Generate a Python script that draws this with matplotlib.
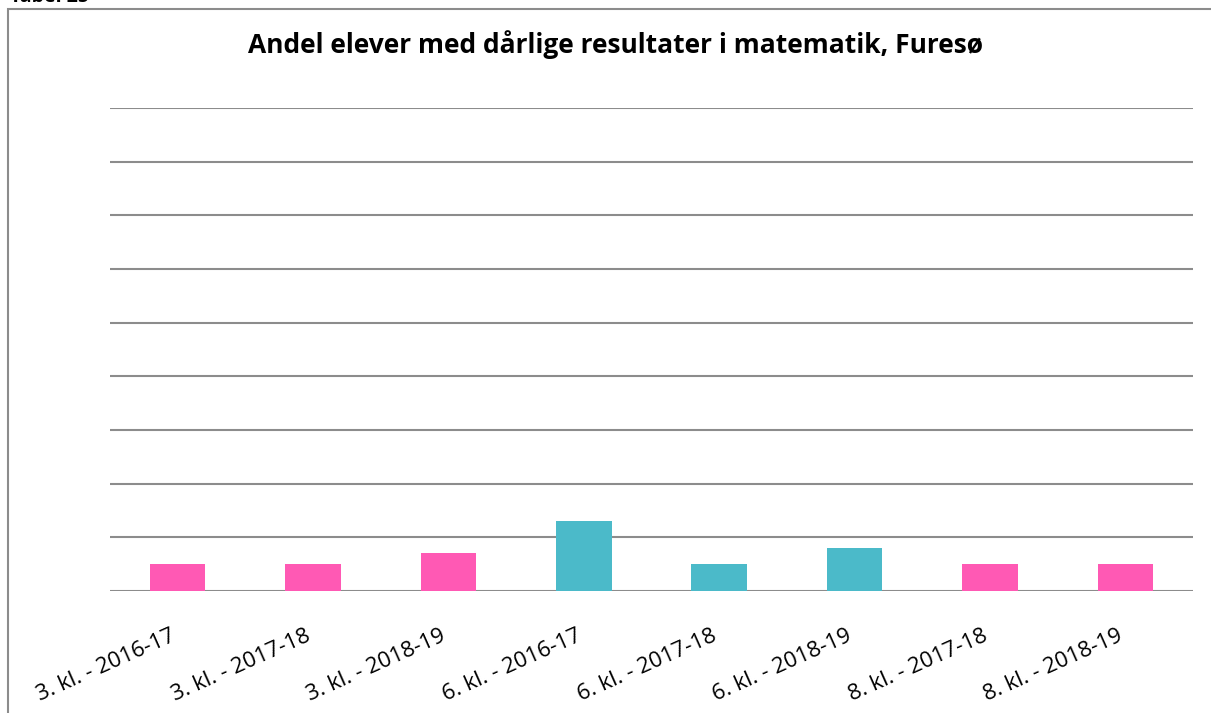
import matplotlib.pyplot as plt
import matplotlib.patches as mpatches
import matplotlib.transforms as mtransforms
import numpy as np

# Data (percent of pupils)
categories = ["3. kl. - 2016-17", "3. kl. - 2017-18", "3. kl. - 2018-19",
              "6. kl. - 2016-17", "6. kl. - 2017-18", "6. kl. - 2018-19",
              "8. kl. - 2017-18", "8. kl. - 2018-19"]
values = [2.5, 2.5, 3.5, 6.5, 2.5, 4.0, 2.5, 2.5]
grades = ["3", "3", "3", "6", "6", "6", "8", "8"]

PINK = "#FF59B4"
TEAL = "#4BBAC9"
GRID = "#8C8C8C"
grade_colors = {"3": PINK, "6": TEAL, "8": PINK}

plt.rcParams['font.family'] = ['Open Sans', 'DejaVu Sans']

W, H = 1211, 713
fig = plt.figure(figsize=(W / 100, H / 100), dpi=100)

# Outer chart frame (cut off on the right and bottom)
frame = mpatches.Rectangle((8 / W, -0.1), 1.2, 1 - 9 / H + 0.1, transform=fig.transFigure,
                           fill=False, edgecolor=GRID, linewidth=1.5, clip_on=False)
fig.patches.append(frame)

# Caption above the frame, mostly cropped away
fig.text(10 / W, 1 - 1.5 / H, "Tabel 25", fontsize=14, fontweight='bold', ha='left', va='baseline')

ax = fig.add_axes([110 / W, 1 - 591 / H, (1193 - 110) / W, (591 - 108) / H])

x = np.arange(len(categories))
colors = [grade_colors[g] for g in grades]
ax.bar(x, values, width=0.41, color=colors, zorder=3)

ax.set_xlim(-0.5, len(categories) - 0.5)
ax.set_ylim(0, 45)
ax.set_yticks(np.arange(0, 46, 5))
ax.yaxis.grid(True, color=GRID, linewidth=1.5)
ax.set_axisbelow(True)
ax.tick_params(axis='y', left=False, labelleft=False)
ax.tick_params(axis='x', length=0, pad=24.5)

for spine in ["top", "right", "left", "bottom"]:
    ax.spines[spine].set_visible(False)

ax.set_xticks(x)
ax.set_xticklabels(categories, rotation=24, ha='right', rotation_mode='anchor', fontsize=16)
shift = mtransforms.ScaledTranslation(-8 / 100, 0, fig.dpi_scale_trans)
for lbl in ax.get_xticklabels():
    lbl.set_va('top')
    lbl.set_transform(lbl.get_transform() + shift)

fig.text(616 / W, 1 - 45 / H, "Andel elever med dårlige resultater i matematik, Furesø",
         fontsize=19, fontweight='bold', ha='center', va='center')

fig.savefig("out.png", dpi=100)
